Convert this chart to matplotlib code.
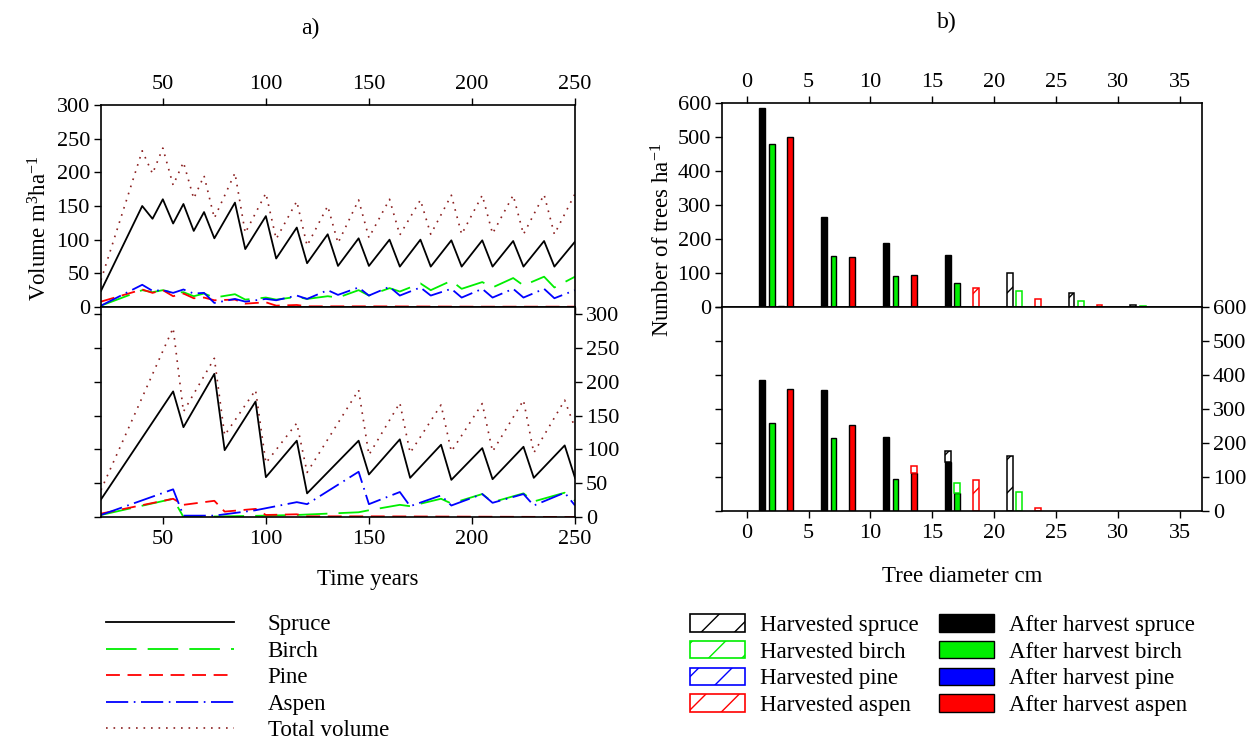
import matplotlib
matplotlib.use("Agg")
import numpy as np
import matplotlib.pyplot as plt
from matplotlib.lines import Line2D
from matplotlib.patches import Patch

plt.rcParams['font.family'] = ['Liberation Serif', 'DejaVu Serif']
plt.rcParams['mathtext.fontset'] = 'custom'
plt.rcParams['mathtext.rm'] = 'Liberation Serif'
plt.rcParams['mathtext.it'] = 'Liberation Serif'
plt.rcParams['font.size'] = 16
plt.rcParams['lines.scale_dashes'] = False
plt.rcParams['hatch.linewidth'] = 1.0

# ---- a) volume over time, upper scenario ----
t_sp_a = [20, 40, 45, 50, 55, 60, 65, 70, 75, 85, 90, 100, 105, 115, 120, 130, 135, 145, 150,
          160, 165, 175, 180, 190, 195, 205, 210, 220, 225, 235, 240, 250]
spruce_a = [24, 150, 131, 160, 124, 153, 113, 141, 102, 155, 86, 135, 72, 118, 65, 108, 61, 102, 61,
            100, 60, 100, 60, 99, 60, 99, 60, 98, 60, 98, 60, 97]
birch_a = [2, 25, 22, 25, 21, 22, 16, 20, 14, 19, 11, 14, 11, 15, 12, 16, 14, 25, 17,
           28, 23, 35, 25, 39, 27, 37, 29, 43, 32, 45, 29, 45]
aspen_a = [2, 33, 24, 25, 21, 26, 20, 21, 6, 12, 8, 12, 10, 17, 12, 25, 18, 29, 17,
           30, 17, 29, 17, 27, 14, 27, 14, 27, 14, 27, 13, 25]
total_a = [40, 232, 198, 236, 181, 215, 161, 195, 132, 199, 110, 169, 101, 157, 91, 150, 95, 159, 103,
           160, 107, 159, 108, 166, 108, 166, 109, 166, 108, 167, 108, 168]
t_pi_a = [20, 40, 45, 50, 55, 60, 65, 70, 75, 85, 90, 100, 105, 115, 120, 150, 200, 250]
pine_a = [8, 26, 21, 25, 16, 20, 13, 14, 10, 11, 5, 7, 2, 3, 1, 1, 0.5, 0.5]

# ---- a) volume over time, lower scenario ----
t_sp_b = [20, 55, 60, 75, 80, 95, 100, 115, 120, 145, 150, 165, 170, 185, 190, 205, 210, 225, 230, 245, 250]
spruce_b = [26, 186, 133, 212, 99, 171, 59, 113, 35, 113, 63, 115, 58, 107, 55, 102, 56, 104, 58, 106, 58]
total_b = [40, 280, 156, 235, 121, 188, 80, 139, 66, 188, 92, 169, 95, 166, 97, 168, 97, 173, 95, 173, 132]
t_bi_b = [20, 55, 60, 100, 115, 145, 150, 165, 170, 185, 190, 205, 210, 225, 230, 245, 250]
birch_b = [3, 27, 0, 2, 3, 7, 10, 18, 16, 27, 20, 34, 22, 35, 23, 36, 24]
t_pi_b = [20, 55, 60, 75, 80, 95, 100, 115, 120, 150, 200, 250]
pine_b = [5, 27, 18, 24, 8, 12, 3, 4, 1, 1, 0.5, 0]
t_as_b = [20, 55, 60, 75, 95, 115, 120, 145, 150, 165, 170, 185, 190, 205, 210, 225, 230, 245, 250]
aspen_b = [3, 41, 2, 2, 10, 22, 19, 67, 19, 37, 16, 32, 17, 34, 21, 34, 17, 36, 17]

# ---- b) diameter distribution ----
classes = [0, 5, 10, 15, 20, 25, 30]
# upper
sp_after_u = [585, 265, 189, 152, 0, 0, 0]
bi_after_u = [480, 150, 92, 72, 0, 0, 0]
pi_after_u = [3, 0, 0, 0, 0, 0, 0]
as_after_u = [500, 147, 94, 0, 0, 0, 0]
sp_harv_u = [0, 0, 0, 0, 101, 42, 5]
bi_harv_u = [0, 0, 0, 0, 47, 18, 2]
pi_harv_u = [0, 0, 0, 0, 0, 0, 0]
as_harv_u = [0, 0, 0, 55, 24, 5, 0]
# lower
sp_after_l = [386, 357, 218, 145, 0, 0, 0]
bi_after_l = [259, 215, 95, 52, 0, 0, 0]
pi_after_l = [0, 0, 0, 0, 0, 0, 0]
as_after_l = [359, 254, 111, 0, 0, 0, 0]
sp_harv_l = [0, 0, 0, 31, 162, 0, 0]
bi_harv_l = [0, 0, 0, 30, 55, 0, 0]
pi_harv_l = [0, 0, 0, 0, 0, 0, 0]
as_harv_l = [0, 0, 21, 92, 8, 0, 0]

GREEN = '#00ee00'
BLUE = '#0000ff'
RED = '#ff0000'
BROWN = '#8b2020'

W, H = 1256, 743
fig = plt.figure(figsize=(W / 100, H / 100), dpi=100)


def ax_at(x0, y0, x1, y1):
    return fig.add_axes([x0 / W, 1 - y1 / H, (x1 - x0) / W, (y1 - y0) / H])


ax1 = ax_at(101, 105, 575, 307)
ax2 = ax_at(101, 307, 575, 517)
ax3 = ax_at(722, 103, 1202, 307)
ax4 = ax_at(722, 307, 1202, 511)

line_styles = dict(
    spruce=dict(color='black', lw=1.3, linestyle='-'),
    birch=dict(color=GREEN, lw=1.3, linestyle=(0, (22, 8))),
    pine=dict(color=RED, lw=1.3, linestyle=(0, (10, 5.5))),
    aspen=dict(color=BLUE, lw=1.3, linestyle=(0, (16, 4, 1.2, 4))),
    total=dict(color=BROWN, lw=1.2, linestyle=(0, (1.2, 4.2))),
)

ax1.plot(t_sp_a, total_a, **line_styles['total'])
ax1.plot(t_sp_a, spruce_a, **line_styles['spruce'])
ax1.plot(t_sp_a, birch_a, **line_styles['birch'])
ax1.plot(t_pi_a, pine_a, **line_styles['pine'])
ax1.plot(t_sp_a, aspen_a, **line_styles['aspen'])

ax2.plot(t_sp_b, total_b, **line_styles['total'])
ax2.plot(t_sp_b, spruce_b, **line_styles['spruce'])
ax2.plot(t_bi_b, birch_b, **line_styles['birch'])
ax2.plot(t_pi_b, pine_b, **line_styles['pine'])
ax2.plot(t_as_b, aspen_b, **line_styles['aspen'])

for ax in (ax1, ax2):
    ax.set_xlim(20, 250)
    ax.set_xticks([50, 100, 150, 200, 250])
    for s in ax.spines.values():
        s.set_linewidth(1.2)
ax1.set_ylim(0, 300)
ax1.set_yticks(range(0, 301, 50))
ax1.tick_params(axis='x', which='both', top=True, labeltop=True, bottom=True, labelbottom=False,
                direction='out', length=5, width=1, labelsize=16, pad=3)
ax1.tick_params(axis='y', left=True, labelleft=True, right=False, direction='out', length=5,
                width=1, labelsize=16, pad=3)

ax2.set_ylim(0, 311)
ax2.set_yticks(range(0, 301, 50))
ax2.tick_params(axis='x', top=False, bottom=True, labelbottom=True, direction='out', length=5,
                width=1, labelsize=16, pad=4)
ax2.tick_params(axis='y', left=True, labelleft=False, right=True, labelright=True, direction='out',
                length=5, width=1, labelsize=16, pad=3)


def draw_bars(ax, after, harv):
    offsets = [1.25, 2.02, 2.77, 3.52]
    colors = ['black', GREEN, BLUE, RED]
    w = 0.47
    for k in range(4):
        xs = np.array(classes) + offsets[k]
        a = np.array(after[k], dtype=float)
        h = np.array(harv[k], dtype=float)
        m = a > 0
        if m.any():
            ax.bar(xs[m], a[m], width=w, color=colors[k], edgecolor='black', linewidth=1.0)
        m = h > 0
        if m.any():
            ax.bar(xs[m], h[m], bottom=a[m], width=w, facecolor='white', edgecolor=colors[k],
                   hatch='/', linewidth=1.1)


draw_bars(ax3, [sp_after_u, bi_after_u, pi_after_u, as_after_u],
          [sp_harv_u, bi_harv_u, pi_harv_u, as_harv_u])
draw_bars(ax4, [sp_after_l, bi_after_l, pi_after_l, as_after_l],
          [sp_harv_l, bi_harv_l, pi_harv_l, as_harv_l])

for ax in (ax3, ax4):
    ax.set_xlim(-2, 36.8)
    ax.set_xticks(range(0, 36, 5))
    ax.set_ylim(0, 600)
    ax.set_yticks(range(0, 601, 100))
    for s in ax.spines.values():
        s.set_linewidth(1.2)
ax3.tick_params(axis='x', top=True, labeltop=True, bottom=True, labelbottom=False, direction='out',
                length=5, width=1, labelsize=16, pad=3)
ax3.tick_params(axis='y', left=True, labelleft=True, right=False, direction='out', length=5,
                width=1, labelsize=16, pad=3)
ax4.tick_params(axis='x', top=False, bottom=True, labelbottom=True, direction='out', length=5,
                width=1, labelsize=16, pad=4)
ax4.tick_params(axis='y', left=True, labelleft=False, right=True, labelright=True, direction='out',
                length=5, width=1, labelsize=16, pad=3)

# titles and axis labels
fig.text(310 / W, 1 - 28 / H, 'a)', ha='center', va='center', fontsize=17)
fig.text(947 / W, 1 - 22 / H, 'b)', ha='center', va='center', fontsize=17)
fig.text(40 / W, 1 - 228 / H, r'Volume m$^{3}$ha$^{-1}$', rotation=90, ha='center', va='center', fontsize=16.5)
fig.text(663 / W, 1 - 240 / H, r'Number of trees ha$^{-1}$', rotation=90, ha='center', va='center', fontsize=16.5)
fig.text(368 / W, 1 - 580 / H, 'Time years', ha='center', va='center', fontsize=16.5)
fig.text(962 / W, 1 - 577 / H, 'Tree diameter cm', ha='center', va='center', fontsize=16.5)

# legends
line_handles = [Line2D([], [], **line_styles[k]) for k in ['spruce', 'birch', 'pine', 'aspen', 'total']]
line_labels = ['Spruce', 'Birch', 'Pine', 'Aspen', 'Total volume']
fig.legend(line_handles, line_labels, loc='upper left', bbox_to_anchor=(106 / W, 1 - 614 / H),
           frameon=False, fontsize=16.5, handlelength=5.6, handletextpad=1.45, labelspacing=0.24,
           borderpad=0, borderaxespad=0)

bar_colors = ['black', GREEN, BLUE, RED]
names = ['spruce', 'birch', 'pine', 'aspen']
bar_handles = [Patch(facecolor='white', edgecolor=c, hatch='/', linewidth=1.2) for c in bar_colors]
bar_handles += [Patch(facecolor=c, edgecolor='black', linewidth=1.0) for c in bar_colors]
bar_labels = ['Harvested ' + n for n in names] + ['After harvest ' + n for n in names]
fig.legend(bar_handles, bar_labels, loc='upper left', bbox_to_anchor=(690 / W, 1 - 614 / H), ncol=2,
           frameon=False, fontsize=16.5, handlelength=2.4, handleheight=0.8, handletextpad=0.65,
           labelspacing=0.22, columnspacing=0.9, borderpad=0, borderaxespad=0)

fig.savefig('out.png', dpi=100)
